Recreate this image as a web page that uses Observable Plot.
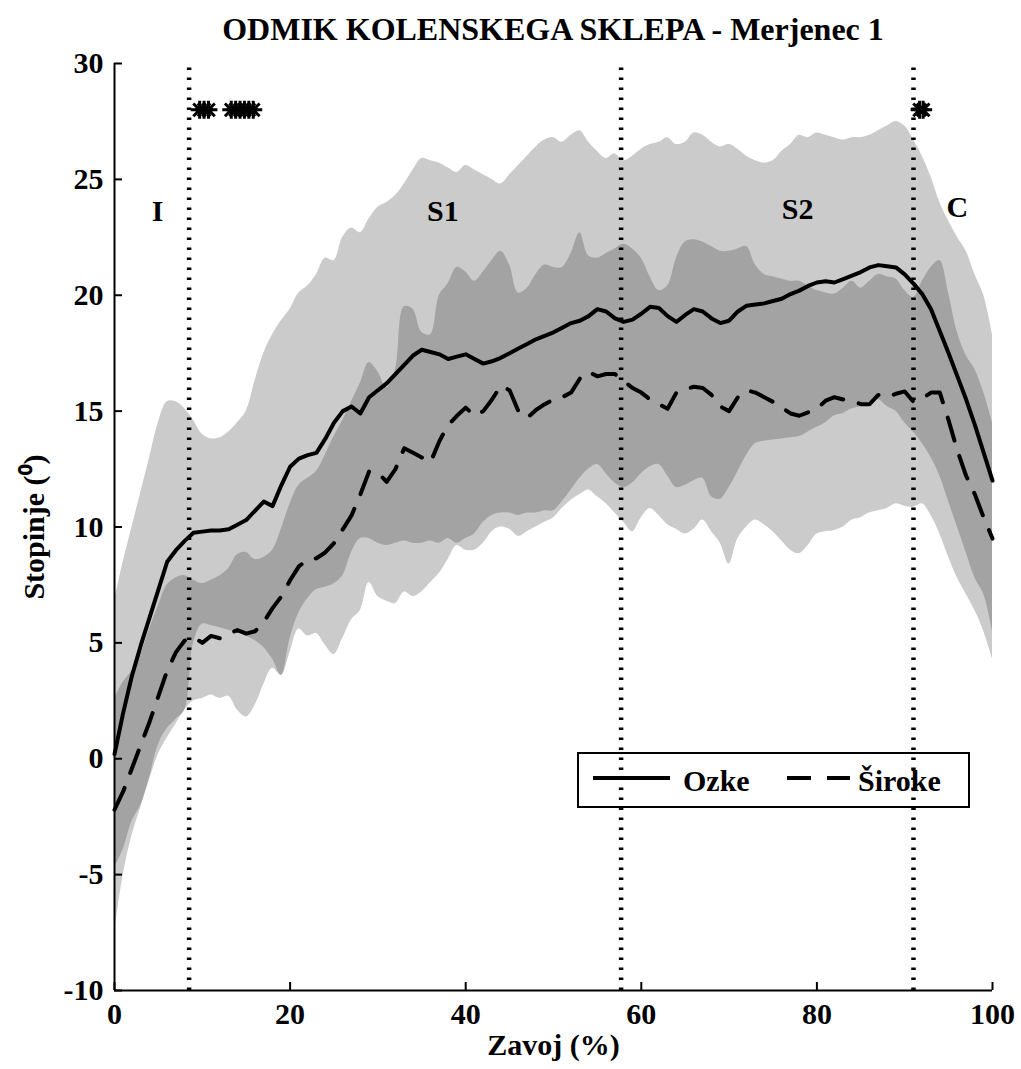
<!DOCTYPE html>
<html>
<head>
<meta charset="utf-8">
<script src="https://cdn.jsdelivr.net/npm/d3@7"></script>
<script src="https://cdn.jsdelivr.net/npm/@observablehq/plot@0.6"></script>
<style>
  body { margin: 0; background: #fff; }
  #title {
    font-family: "Liberation Serif", "Times New Roman", serif;
    font-weight: bold; font-size: 32px; line-height: 1;
    height: 46px; box-sizing: border-box;
    padding: 13px 29px 0 114px; text-align: center; color: #000;
  }
</style>
</head>
<body>
<div id="title">ODMIK KOLENSKEGA SKLEPA - Merjenec 1</div>
<div id="chart"></div>
<script>
// Gait cycle, sampled every 1 %
const pct = d3.range(0, 101);

// Mean knee abduction, narrow shoes (Ozke)
const ozke = [
  0.2, 2.0, 3.6, 4.9, 6.1, 7.3, 8.5, 9.0, 9.4, 9.75,
  9.8, 9.85, 9.85, 9.9, 10.1, 10.3, 10.7, 11.1, 10.9, 11.8,
  12.6, 12.95, 13.1, 13.2, 13.8, 14.5, 15.0, 15.2, 14.9, 15.6,
  15.9, 16.2, 16.6, 17.0, 17.4, 17.65, 17.55, 17.45, 17.25, 17.35,
  17.45, 17.25, 17.05, 17.15, 17.3, 17.5, 17.7, 17.9, 18.1, 18.25,
  18.4, 18.6, 18.8, 18.9, 19.1, 19.4, 19.3, 19.0, 18.85, 18.95,
  19.2, 19.5, 19.45, 19.1, 18.85, 19.15, 19.4, 19.3, 19.0, 18.8,
  18.9, 19.3, 19.55, 19.6, 19.65, 19.75, 19.85, 20.05, 20.2, 20.4,
  20.55, 20.6, 20.55, 20.7, 20.85, 21.0, 21.2, 21.3, 21.25, 21.2,
  20.9, 20.5, 20.05, 19.4, 18.45, 17.5, 16.5, 15.5, 14.4, 13.2,
  12.0
];

// Mean knee abduction, wide shoes (Široke)
const siroke = [
  -2.2, -1.4, -0.4, 0.6, 1.6, 2.7, 3.8, 4.6, 5.1, 5.25,
  5.0, 5.3, 5.2, 5.4, 5.55, 5.4, 5.5, 5.9, 6.5, 7.0,
  7.7, 8.3, 8.6, 8.65, 8.9, 9.3, 9.9, 10.5, 11.4, 12.4,
  12.35, 11.95, 12.5, 13.4, 13.2, 13.0, 12.8, 13.7, 14.4, 14.8,
  15.15, 14.8, 15.0, 15.5, 16.1, 15.9, 15.0, 14.7, 15.05, 15.3,
  15.5, 15.6, 15.8, 16.4, 16.7, 16.5, 16.6, 16.6, 16.3, 16.0,
  15.8, 15.5, 15.3, 15.1, 15.8, 15.95, 16.05, 16.0, 15.7, 15.2,
  15.0, 15.6, 15.9, 15.8, 15.6, 15.4, 15.15, 14.9, 14.8, 14.95,
  15.1, 15.45, 15.6, 15.5, 15.45, 15.3, 15.3, 15.7, 15.6, 15.75,
  15.85, 15.4, 15.55, 15.8, 15.8, 14.6, 13.3, 12.2, 11.4, 10.4,
  9.5
];

// Ozke ± SD band
const ozkeHi = [
  6.8, 8.5, 10.0, 11.5, 13.0, 14.5, 15.4, 15.4, 15.1, 14.6,
  14.0, 13.8, 13.85, 14.1, 14.5, 15.0, 16.3, 17.5, 18.3, 18.9,
  19.4, 20.1, 20.4, 20.9, 21.6, 21.5, 22.5, 22.9, 22.7, 23.3,
  23.8, 24.0, 24.3, 24.8, 25.4, 25.9, 25.8, 25.7, 25.5, 25.3,
  25.6, 25.4, 25.2, 25.0, 24.8, 25.2, 25.6, 26.0, 26.4, 26.7,
  26.8, 26.6, 26.9, 27.1, 26.6, 26.2, 25.9, 26.1, 25.8, 26.0,
  26.3, 26.5, 26.6, 26.8, 26.5, 26.6, 27.0, 26.9, 26.6, 26.4,
  26.5, 26.3, 26.0, 25.8, 25.7, 25.8, 26.2, 26.5, 26.9, 26.8,
  27.0, 26.9, 26.8, 26.7, 26.8, 26.8, 26.9, 27.1, 27.3, 27.5,
  27.3, 26.7, 26.0, 25.1, 24.0, 23.2, 22.5, 21.9, 20.9, 20.0,
  18.3
];
const ozkeLo = [
  -7.5, -5.0, -3.3, -2.1, -0.9, 0.2, 0.9, 1.5, 2.1, 2.5,
  2.6, 2.75, 2.6, 2.7, 2.1, 1.8, 2.3, 3.2, 3.9, 3.6,
  4.6, 5.6, 5.3, 5.4, 4.9, 4.5, 5.2, 6.0, 6.4, 7.6,
  7.0, 6.8, 6.7, 7.2, 7.0, 7.2, 7.6, 8.0, 8.6, 9.2,
  9.0, 9.0, 9.3, 9.8, 10.0, 9.9, 9.6, 9.8, 10.0, 10.2,
  10.4, 10.8, 11.15, 11.4, 11.6, 11.3, 11.0, 10.6, 10.2, 9.8,
  10.4, 10.8, 10.5, 10.1, 9.9, 9.7, 9.9, 10.3, 9.8, 9.3,
  8.4, 9.5, 10.0, 10.3, 10.1, 9.8, 9.4, 9.0, 8.85, 9.2,
  9.7, 9.8, 9.85, 10.0, 10.3, 10.4, 10.6, 10.7, 10.8, 11.0,
  10.9, 10.85, 11.0, 10.5, 9.7, 8.7, 7.8, 7.1, 6.4, 5.5,
  4.3
];

// Široke ± SD band
const sirokeHi = [
  2.6, 3.3, 3.8, 4.5, 5.6, 6.6, 7.5, 7.8, 7.9, 7.7,
  7.55, 7.7, 7.9, 8.2, 8.8, 8.9, 8.6, 8.7, 9.0, 9.9,
  11.0, 11.8, 12.1, 12.4, 13.1, 13.9, 14.6, 15.4, 16.2, 17.1,
  16.7, 16.0, 16.8, 19.5, 19.4, 18.4, 18.3, 20.0, 20.5, 21.2,
  21.0, 20.6, 21.0, 21.5, 21.9, 21.3, 20.1, 20.3, 20.9, 21.3,
  21.2, 21.2, 21.8, 22.7, 21.7, 21.6, 21.8, 22.0, 22.2, 22.0,
  21.6, 20.8, 20.2, 20.4, 21.6, 22.3, 22.4, 22.3, 22.1, 21.9,
  21.9, 22.0, 22.1, 21.3, 20.9, 20.8, 20.7, 20.6, 20.6, 20.4,
  20.2, 20.1, 20.05, 20.3, 20.6, 20.3, 20.6, 20.9, 20.8, 20.7,
  20.2, 19.9, 20.6, 21.2, 21.5, 20.1, 18.4, 17.4, 16.8, 15.8,
  14.5
];
const sirokeLo = [
  -4.7, -3.9, -2.7, -2.0, -0.8, 0.6, 1.3, 1.7, 2.1, 5.0,
  5.8, 5.75, 5.65, 5.55, 5.45, 5.3, 5.1, 4.8, 4.3, 3.6,
  5.2, 6.3, 6.9, 7.3, 7.4, 7.55, 7.9, 8.9, 9.5, 9.5,
  9.3, 9.2, 9.3, 9.4, 9.3, 9.3, 9.4, 9.3, 9.5, 9.3,
  9.5, 9.7, 10.2, 10.5, 10.6, 10.6, 10.5, 10.6, 10.6, 10.7,
  10.7, 11.1, 11.6, 12.1, 12.5, 12.7, 12.3, 11.9, 11.7, 11.9,
  12.3, 12.6, 12.7, 12.2, 11.7, 11.8, 12.0, 12.1, 11.3, 11.2,
  11.7, 12.4, 13.1, 13.6, 13.7, 13.75, 13.8, 13.85, 13.9, 14.1,
  14.3, 14.5, 14.8, 14.9, 15.1, 15.2, 15.4, 15.5, 15.2, 15.0,
  14.5, 14.1, 13.6, 13.0, 12.2, 11.1, 10.0, 8.9, 7.8, 7.1,
  5.5
];

// Phase boundaries and phase names
const phaseX = [8.5, 57.7, 91.0];
const phaseNames = ["I", "S1", "S2", "C"];
const phaseNameX = [4.9, 37.4, 77.8, 96.0];
const phaseNameY = [23.6, 23.6, 23.7, 23.8];

// Samples with a significant difference between shoe types
const sigX = [9.7, 10.2, 10.7, 13.3, 13.8, 14.3, 14.8, 15.3, 15.8, 91.7, 92.1];
const sigY = 28;

// Axis ticks
const xTicks = [0, 20, 40, 60, 80, 100];
const yTicks = [-10, -5, 0, 5, 10, 15, 20, 25, 30];

const idx = d3.range(pct.length);
const serif = '"Liberation Serif", "Times New Roman", serif';

// Eight-spoke star, as drawn by the '*' marker
const star = {
  draw(ctx, size) {
    const r = Math.sqrt(size / Math.PI);
    for (let k = 0; k < 4; ++k) {
      const a = (k * Math.PI) / 4;
      const c = Math.cos(a) * r, s = Math.sin(a) * r;
      ctx.moveTo(-c, -s);
      ctx.lineTo(c, s);
    }
  }
};

const chart = Plot.plot({
  width: 1021,
  height: 1023,
  marginTop: 17,
  marginBottom: 79,
  marginLeft: 114,
  marginRight: 29,
  style: { fontFamily: serif, fontWeight: "bold", fontSize: "30px", color: "#000", background: "#fff" },
  x: { domain: [0, 100] },
  y: { domain: [-10, 30] },
  marks: [
    Plot.areaY(idx, { x: i => pct[i], y1: i => ozkeLo[i], y2: i => ozkeHi[i], fill: "#cbcbcb", curve: "catmull-rom" }),
    Plot.areaY(idx, { x: i => pct[i], y1: i => sirokeLo[i], y2: i => sirokeHi[i], fill: "#a3a3a3", curve: "catmull-rom" }),
    Plot.line(idx, { x: i => pct[i], y: i => ozke[i], stroke: "#000", strokeWidth: 4 }),
    Plot.line(idx, { x: i => pct[i], y: i => siroke[i], stroke: "#000", strokeWidth: 4, strokeDasharray: "24,16" }),
    Plot.ruleX(phaseX, { x: d => d, y1: -10, y2: 30, stroke: "#000", strokeWidth: 4.5, strokeDasharray: "2.5,7.5" }),
    Plot.dot(sigX, { x: d => d, y: () => sigY, symbol: star, r: 9, fill: "none", stroke: "#000", strokeWidth: 3 }),
    Plot.text(phaseNames, { x: (d, i) => phaseNameX[i], y: (d, i) => phaseNameY[i], text: d => d, fontSize: 30, fontWeight: "bold" }),
    Plot.ruleX([0], { y1: -10, y2: 30, stroke: "#000", strokeWidth: 2 }),
    Plot.ruleY([-10], { x1: 0, x2: 100, stroke: "#000", strokeWidth: 2 }),
    Plot.axisY({ ticks: yTicks, tickFormat: d => `${d}`, tickSize: -8, tickPadding: 19, strokeWidth: 2, label: null }),
    Plot.axisX({ ticks: xTicks, tickFormat: d => `${d}`, tickSize: -8, tickPadding: 20, strokeWidth: 2, label: null }),
    Plot.text(["Zavoj (%)"], { frameAnchor: "bottom", dy: 64, text: d => d, fontSize: 30, fontWeight: "bold" }),
    Plot.text(["Stopinje (\u2070)"], { frameAnchor: "left", textAnchor: "middle", dx: -80, rotate: -90, text: d => d, fontSize: 30, fontWeight: "bold" })
  ]
});

// Legend box in the lower right of the frame
const svg = d3.select(chart);
const lg = svg.append("g")
  .attr("font-family", serif).attr("font-weight", "bold").attr("font-size", 30)
  .attr("text-anchor", "start");
lg.append("rect").attr("x", 578).attr("y", 707).attr("width", 391).attr("height", 54)
  .attr("fill", "none").attr("stroke", "#000").attr("stroke-width", 2);
lg.append("line").attr("x1", 593).attr("x2", 670).attr("y1", 732).attr("y2", 732)
  .attr("stroke", "#000").attr("stroke-width", 4);
lg.append("text").attr("x", 683).attr("y", 745).text("Ozke");
lg.append("line").attr("x1", 787).attr("x2", 850).attr("y1", 732).attr("y2", 732)
  .attr("stroke", "#000").attr("stroke-width", 4).attr("stroke-dasharray", "24,16");
lg.append("text").attr("x", 858).attr("y", 745).text("Široke");

document.getElementById("chart").appendChild(chart);
</script>
</body>
</html>
